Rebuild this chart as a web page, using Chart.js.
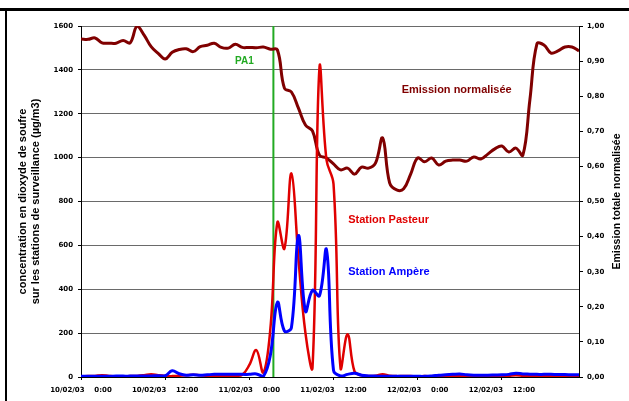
<!DOCTYPE html>
<html>
<head>
<meta charset="utf-8">
<script src="https://cdn.jsdelivr.net/npm/chart.js@4.4.1/dist/chart.umd.min.js"></script>
<style>
  html, body { margin: 0; padding: 0; background: #fff; }
  #wrap { position: relative; width: 629px; height: 401px; overflow: hidden; }
  #chart { position: absolute; left: 0; top: 0; }
  .frame-top { position: absolute; left: 0; top: 8px; width: 629px; height: 3px; background: #000; }
  .frame-left { position: absolute; left: 5px; top: 8px; width: 2px; height: 393px; background: #000; }
</style>
</head>
<body>
<div id="wrap">
  <canvas id="chart" width="629" height="401"></canvas>
  <div class="frame-top"></div>
  <div class="frame-left"></div>
</div>
<script>
// hourly samples from 10/02/03 0:00 to 12/02/03 23:00
const hours = Array.from({ length: 72 }, (_, i) => i);
const tickLabels = [
  "10/02/03    0:00", "10/02/03    12:00",
  "11/02/03    0:00", "11/02/03    12:00",
  "12/02/03    0:00", "12/02/03    12:00"
];

// Emission totale normalisée (right axis)
const emission = [
  0.963, 0.962, 0.966, 0.952, 0.951, 0.951, 0.959, 0.952, 1.000, 0.974, 0.941, 0.922,
  0.906, 0.925, 0.933, 0.935, 0.927, 0.941, 0.945, 0.951, 0.939, 0.937, 0.948, 0.939,
  0.939, 0.938, 0.940, 0.934, 0.932, 0.823, 0.812, 0.766, 0.718, 0.701, 0.632, 0.624,
  0.607, 0.590, 0.595, 0.578, 0.598, 0.595, 0.610, 0.681, 0.553, 0.533, 0.536, 0.578,
  0.624, 0.613, 0.624, 0.604, 0.615, 0.618, 0.618, 0.615, 0.627, 0.621, 0.635, 0.650,
  0.658, 0.641, 0.652, 0.632, 0.790, 0.949, 0.946, 0.923, 0.929, 0.940, 0.940, 0.929
];

// Station Pasteur, µg/m3
const pasteur = [
  3, 4, 5, 8, 5, 3, 3, 4, 5, 8, 12, 8,
  5, 4, 6, 8, 10, 8, 6, 5, 6, 5, 6, 10,
  55, 123, 20, 220, 705, 585, 928, 540, 200, 40, 1410, 990,
  880, 40, 195, 25, 8, 5, 6, 12, 6, 4, 5, 4,
  3, 4, 3, 3, 4, 5, 6, 5, 4, 4, 5, 4,
  5, 6, 8, 6, 5, 5, 5, 5, 4, 4, 5, 5
];

// Station Ampère, µg/m3
const ampere = [
  3, 3, 3, 3, 3, 4, 4, 4, 5, 5, 5, 6,
  6, 28, 15, 8, 10, 8, 10, 12, 12, 12, 12, 12,
  12, 14, 3, 100, 340, 210, 225, 645, 300, 395, 370, 580,
  30, 5, 12, 17, 8, 5, 4, 3, 3, 3, 3, 3,
  3, 3, 5, 8, 10, 12, 14, 10, 8, 8, 8, 9,
  10, 12, 17, 14, 13, 12, 12, 12, 11, 11, 10, 10
];

const pa1Hour = 27.43;

const tickFont = { family: "'DejaVu Sans'", size: 7, weight: "bold" };
const textFont = "'Liberation Sans', Arial, sans-serif";

const toPoints = (values) => values.map((v, i) => ({ x: hours[i], y: v }));

// texts placed in data coordinates: [text, hour, value, axis, colour, size]
const notes = [
  ["PA1", 21.96, 1427, "y", "#22aa22", 10],
  ["Emission normalisée", 45.72, 0.808, "y2", "#800000", 11],
  ["Station Pasteur", 38.1, 703, "y", "#e00000", 11],
  ["Station Ampère", 38.1, 465, "y", "#0000ff", 11]
];

const decor = {
  id: "decor",
  beforeDatasetsDraw(chart) {
    const { ctx, chartArea, scales } = chart;
    const x = scales.x.getPixelForValue(pa1Hour);
    ctx.save();
    ctx.strokeStyle = "#22aa22";
    ctx.lineWidth = 2;
    ctx.beginPath();
    ctx.moveTo(x, chartArea.top);
    ctx.lineTo(x, chartArea.bottom);
    ctx.stroke();
    ctx.restore();
  },
  afterDraw(chart) {
    const { ctx, chartArea, scales } = chart;
    const midY = (chartArea.top + chartArea.bottom) / 2;
    ctx.save();
    ctx.fillStyle = "#000";
    ctx.textAlign = "center";
    ctx.textBaseline = "alphabetic";

    ctx.font = "bold 11px " + textFont;
    ctx.save();
    ctx.translate(26, midY);
    ctx.rotate(-Math.PI / 2);
    ctx.fillText("concentration en dioxyde de soufre", 0, 0);
    ctx.fillText("sur les stations de surveillance (µg/m3)", 0, 13.3);
    ctx.restore();

    ctx.font = "bold 10.5px " + textFont;
    ctx.save();
    ctx.translate(620, midY);
    ctx.rotate(-Math.PI / 2);
    ctx.fillText("Emission totale normalisée", 0, 0);
    ctx.restore();

    ctx.textAlign = "left";
    notes.forEach(([text, h, v, axis, color, size]) => {
      ctx.font = "bold " + size + "px " + textFont;
      ctx.fillStyle = color;
      ctx.fillText(text, scales.x.getPixelForValue(h), scales[axis].getPixelForValue(v));
    });
    ctx.restore();
  }
};

new Chart(document.getElementById("chart").getContext("2d"), {
  type: "line",
  data: {
    datasets: [
      {
        label: "Station Ampère",
        data: toPoints(ampere),
        borderColor: "#0000ff",
        borderWidth: 3,
        yAxisID: "y"
      },
      {
        label: "Station Pasteur",
        data: toPoints(pasteur),
        borderColor: "#e00000",
        borderWidth: 2.5,
        yAxisID: "y"
      },
      {
        label: "Emission normalisée",
        data: toPoints(emission),
        borderColor: "#800000",
        borderWidth: 3,
        yAxisID: "y2"
      }
    ]
  },
  options: {
    responsive: false,
    animation: false,
    devicePixelRatio: 1,
    layout: { padding: { top: 26, left: 0, right: 0, bottom: 0 } },
    elements: {
      point: { radius: 0 },
      line: { tension: 0.4, fill: false }
    },
    plugins: {
      legend: { display: false },
      tooltip: { enabled: false }
    },
    scales: {
      x: {
        type: "linear",
        min: 0,
        max: 71,
        afterBuildTicks: (scale) => {
          scale.ticks = tickLabels.map((_, i) => ({ value: i * 12 }));
        },
        afterFit: (scale) => { scale.height = 24; },
        ticks: {
          callback: (v) => tickLabels[v / 12],
          font: tickFont,
          color: "#000",
          padding: 6,
          maxRotation: 0,
          autoSkip: false
        },
        grid: { drawOnChartArea: false, tickLength: 3, tickColor: "#000" },
        border: { color: "#000", width: 1 }
      },
      y: {
        position: "left",
        min: 0,
        max: 1600,
        afterFit: (scale) => { scale.width = 81; },
        ticks: {
          stepSize: 200,
          font: tickFont,
          color: "#000",
          padding: 5,
          callback: (v) => String(v)
        },
        grid: {
          color: (c) => (c.tick && c.tick.value === 0 ? "rgba(0,0,0,0)" : "#6a6a6a"),
          tickLength: 3,
          tickColor: "#000"
        },
        border: { color: "#000", width: 1 }
      },
      y2: {
        position: "right",
        min: 0,
        max: 1,
        afterFit: (scale) => { scale.width = 50; },
        ticks: {
          stepSize: 0.1,
          font: tickFont,
          color: "#000",
          padding: 4,
          callback: (v) => v.toFixed(2).replace(".", ",")
        },
        grid: { drawOnChartArea: false, tickLength: 4, tickColor: "#000" },
        border: { color: "#000", width: 1 }
      }
    }
  },
  plugins: [decor]
});
</script>
</body>
</html>
